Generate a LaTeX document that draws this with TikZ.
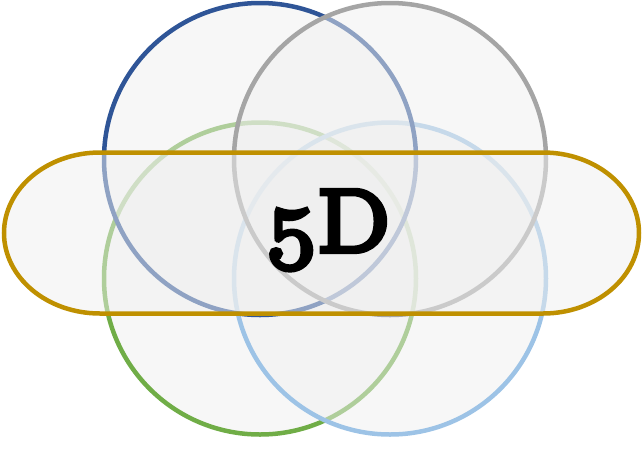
\documentclass[tikz,border=0pt]{standalone}
\usepackage{fontspec}
\newfontfamily\titlefont{Latin Modern Roman}[Numbers=OldStyle, FakeBold=7, FakeStretch=1.15]
\definecolor{cblue}{RGB}{47,85,151}
\definecolor{cgray}{RGB}{165,165,165}
\definecolor{cgreen}{RGB}{112,173,71}
\definecolor{clblue}{RGB}{157,195,230}
\definecolor{cgold}{RGB}{191,144,0}
\definecolor{cfill}{RGB}{239,239,239}
\tikzset{
  ring/.style={line width=4.5pt, fill=cfill, fill opacity=0.5, draw opacity=1},
}
\begin{document}
\begin{tikzpicture}[x=1pt,y=-1pt]
\useasboundingbox (0,0) rectangle (643,467);
\path[ring, draw=cgreen] (260,278.5) circle (156);
\path[ring, draw=clblue] (390,278.5) circle (156);
\path[ring, draw=cblue] (260,159) circle (156);
\path[ring, draw=cgray] (390,159) circle (156);
\path[ring, draw=cgold] (100,152.5) -- (543,152.5)
  arc[start angle=-90, end angle=90, x radius=96, y radius=80.5]
  -- (100,313.5)
  arc[start angle=90, end angle=270, x radius=96, y radius=80.5] -- cycle;
\node[font=\titlefont\fontsize{88}{88}\selectfont, inner sep=0pt, anchor=base] (title) at (327,251) {5D};
\end{tikzpicture}
\end{document}
